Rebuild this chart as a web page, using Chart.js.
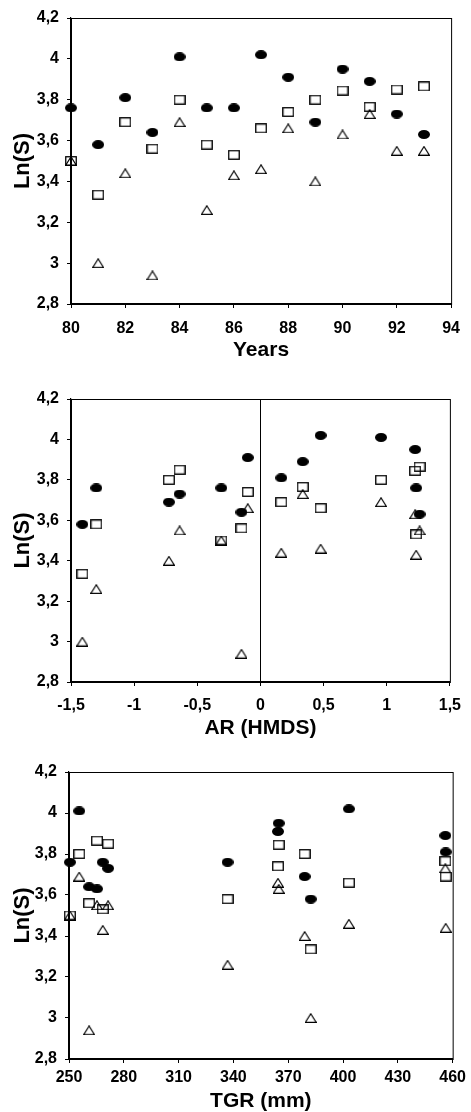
<!DOCTYPE html>
<html>
<head>
<meta charset="utf-8">
<script src="https://cdn.jsdelivr.net/npm/chart.js@4.4.1/dist/chart.umd.min.js"></script>
<style>
  body { margin: 0; background: #fff; }
  canvas { display: block; }
</style>
</head>
<body>
<canvas id="chart1" width="471" height="370"></canvas>
<canvas id="chart2" width="471" height="370"></canvas>
<canvas id="chart3" width="471" height="372"></canvas>
<script>
// one row per year, three explanatory variables, three Ln(S) series
const years = [80, 81, 82, 83, 84, 85, 86, 87, 88, 89, 90, 91, 92, 93];
const arHmds = [-0.31, -1.41, 0.165, -0.15, 0.955, -1.30, 1.233, 0.477, -0.10, -0.725, 1.225, 0.335, -0.64, 1.26];
const tgrMm = [250.5, 382.3, 456.2, 261, 255.6, 336.8, 268.5, 403.2, 364.4, 379, 364.8, 456, 271.4, 265.3];

const lnSDots = [3.76, 3.58, 3.81, 3.64, 4.01, 3.76, 3.76, 4.02, 3.91, 3.69, 3.95, 3.89, 3.73, 3.63];
const lnSSquares = [3.50, 3.335, 3.69, 3.56, 3.80, 3.58, 3.53, 3.66, 3.74, 3.80, 3.845, 3.765, 3.85, 3.865];
const lnSTriangles = [3.50, 3.00, 3.44, 2.94, 3.69, 3.26, 3.43, 3.46, 3.66, 3.40, 3.63, 3.73, 3.55, 3.55];

const yTicks = { min: 2.8, max: 4.2, step: 0.2 };

function makeMarker(w, h, draw) {
    const c = document.createElement('canvas');
    c.width = w;
    c.height = h;
    draw(c.getContext('2d'), w, h);
    return c;
}

const dotMark = makeMarker(12, 9, (g, w, h) => {
    g.fillStyle = '#000';
    g.beginPath();
    g.ellipse(w / 2, h / 2, w / 2, h / 2, 0, 0, Math.PI * 2);
    g.fill();
});
const boxMark = makeMarker(12, 10, (g, w, h) => {
    g.strokeStyle = '#000';
    g.lineWidth = 1.3;
    g.strokeRect(0.75, 0.75, w - 1.5, h - 1.5);
});
const triMark = makeMarker(12, 10, (g, w, h) => {
    g.strokeStyle = '#000';
    g.lineWidth = 1.2;
    g.beginPath();
    g.moveTo(w / 2, 0.8);
    g.lineTo(w - 0.7, h - 0.7);
    g.lineTo(0.7, h - 0.7);
    g.closePath();
    g.stroke();
});

const commaFmt = v => String(Math.round(v * 10) / 10).replace('.', ',');

const framePlugin = {
    id: 'frame',
    beforeDatasetsDraw(chart) {
        const { ctx, chartArea: a } = chart;
        ctx.save();
        ctx.strokeStyle = '#000';
        ctx.lineWidth = 1;
        ctx.strokeRect(a.left + 0.5, a.top + 0.5, a.right - a.left, a.bottom - a.top);
        ctx.restore();
    }
};

function pairs(xs, ys) {
    return xs.map((x, i) => ({ x: x, y: ys[i] }));
}

function makeChart(cfg) {
    const ctx = document.getElementById(cfg.id).getContext('2d');
    const h = ctx.canvas.height;
    return new Chart(ctx, {
        type: 'scatter',
        data: {
            datasets: [
                { label: 'Ln(S) dots', data: pairs(cfg.xs, lnSDots), pointStyle: dotMark, clip: false },
                { label: 'Ln(S) squares', data: pairs(cfg.xs, lnSSquares), pointStyle: boxMark, clip: false },
                { label: 'Ln(S) triangles', data: pairs(cfg.xs, lnSTriangles), pointStyle: triMark, clip: false },
            ]
        },
        options: {
            responsive: false,
            animation: false,
            layout: { padding: { top: cfg.top, right: 471 - cfg.right, left: 0, bottom: 0 } },
            plugins: { legend: { display: false }, tooltip: { enabled: false } },
            scales: {
                x: {
                    type: 'linear',
                    min: cfg.xMin,
                    max: cfg.xMax,
                    ticks: {
                        stepSize: cfg.xStep,
                        autoSkip: false,
                        maxRotation: 0,
                        padding: cfg.xTickPad,
                        color: '#000',
                        font: { family: 'Liberation Sans', size: 16, weight: 'bold' },
                        callback: commaFmt
                    },
                    grid: {
                        drawOnChartArea: !!cfg.zeroLine,
                        color: c => (cfg.zeroLine && c.tick && c.tick.value === 0) ? '#000' : 'rgba(0,0,0,0)',
                        tickColor: '#000',
                        tickLength: 4
                    },
                    border: { color: '#000', width: 1.2 },
                    title: {
                        display: true,
                        text: cfg.xTitle,
                        color: '#000',
                        font: { family: 'Liberation Sans', size: 21, weight: 'bold', lineHeight: 1 },
                        padding: { top: 0, bottom: cfg.xTitlePad }
                    },
                    afterFit: s => { s.height = h - cfg.bottom; }
                },
                y: {
                    min: yTicks.min,
                    max: yTicks.max,
                    ticks: {
                        stepSize: yTicks.step,
                        padding: 8,
                        color: '#000',
                        font: { family: 'Liberation Sans', size: 16, weight: 'bold' },
                        callback: commaFmt
                    },
                    grid: { drawOnChartArea: false, tickColor: '#000', tickLength: 4 },
                    border: { color: '#000', width: 1.2 },
                    title: {
                        display: true,
                        text: 'Ln(S)',
                        color: '#000',
                        font: { family: 'Liberation Sans', size: 22, weight: 'bold', lineHeight: 1 },
                        padding: { top: 12, bottom: 0 }
                    },
                    afterFit: s => { s.width = cfg.left; }
                }
            }
        },
        plugins: [framePlugin]
    });
}

makeChart({
    id: 'chart1', xs: years, xTitle: 'Years',
    xMin: 80, xMax: 94, xStep: 2,
    left: 71, right: 459, top: 18, bottom: 304,
    xTickPad: 11, xTitlePad: 9
});

makeChart({
    id: 'chart2', xs: arHmds, xTitle: 'AR (HMDS)',
    xMin: -1.5, xMax: 1.5, xStep: 0.5, zeroLine: true,
    left: 71, right: 457, top: 29, bottom: 312,
    xTickPad: 10, xTitlePad: 1
});

makeChart({
    id: 'chart3', xs: tgrMm, xTitle: 'TGR (mm)',
    xMin: 250, xMax: 460, xStep: 30,
    left: 69, right: 459, top: 32, bottom: 319,
    xTickPad: 5, xTitlePad: 0
});
</script>
</body>
</html>
